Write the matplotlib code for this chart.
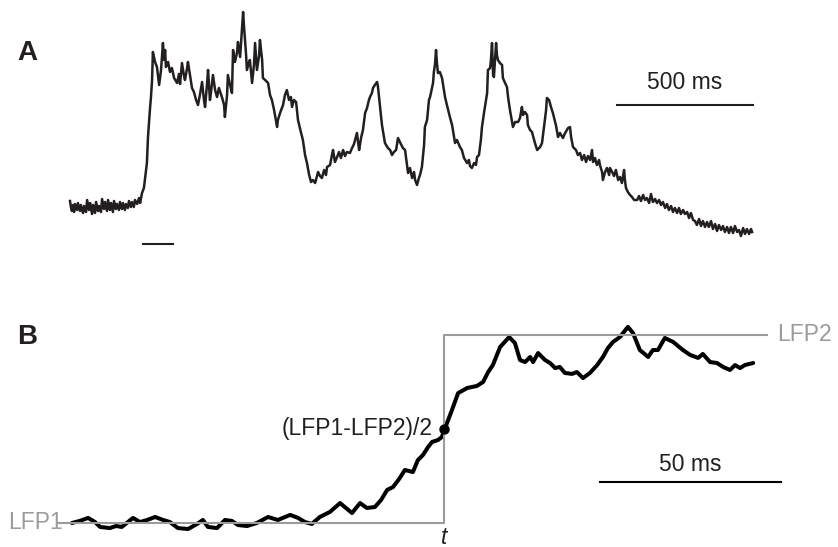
import matplotlib
matplotlib.use('Agg')
import matplotlib.pyplot as plt

plt.rcParams['font.family'] = ['Liberation Sans', 'DejaVu Sans']

# 面板A：场电位记录 (时间 ms, 幅值 任意单位)
t_a = [0, 4, 7, 11, 15, 18, 26, 29, 37, 40, 48, 52, 59, 63, 70, 74, 81, 85, 92, 96,
       103, 107, 114, 118, 125, 129, 136, 140, 147, 151, 158, 162, 169, 173, 180, 184,
       191, 195, 202, 206, 213, 217, 224, 228, 235, 239, 247, 254, 258, 265, 272, 283,
       287, 294, 298, 302, 305, 313, 320, 328, 335, 342, 346, 350, 353, 361, 368, 375,
       383, 394, 401, 405, 412, 419, 423, 431, 434, 442, 449, 456, 464, 471, 478, 486,
       493, 497, 504, 508, 515, 519, 526, 534, 541, 548, 559, 567, 570, 578, 581, 589,
       596, 600, 607, 615, 618, 626, 629, 637, 640, 644, 648, 651, 659, 662, 670, 677,
       681, 684, 688, 696, 699, 707, 710, 718, 729, 736, 743, 751, 762, 765, 773, 784,
       791, 798, 806, 813, 817, 824, 832, 839, 846, 857, 865, 872, 880, 887, 894, 902,
       913, 920, 927, 935, 942, 946, 957, 964, 968, 975, 983, 990, 997, 1005, 1012, 1019,
       1030, 1038, 1045, 1056, 1060, 1064, 1071, 1078, 1086, 1093, 1100, 1104, 1111,
       1115, 1122, 1130, 1133, 1141, 1148, 1159, 1170, 1178, 1185, 1192, 1200, 1207,
       1214, 1225, 1233, 1240, 1244, 1251, 1259, 1266, 1270, 1277, 1284, 1288, 1295,
       1303, 1306, 1314, 1321, 1325, 1332, 1336, 1339, 1343, 1347, 1350, 1354, 1361,
       1369, 1376, 1380, 1387, 1398, 1406, 1417, 1424, 1435, 1442, 1450, 1461, 1468,
       1472, 1479, 1487, 1494, 1498, 1505, 1512, 1516, 1524, 1535, 1538, 1546, 1549,
       1553, 1557, 1560, 1564, 1568, 1571, 1575, 1582, 1590, 1593, 1601, 1608, 1612,
       1619, 1630, 1638, 1649, 1656, 1663, 1667, 1674, 1682, 1685, 1693, 1700, 1711,
       1719, 1730, 1737, 1744, 1752, 1755, 1763, 1770, 1777, 1788, 1796, 1803, 1814,
       1822, 1833, 1840, 1844, 1851, 1862, 1869, 1877, 1884, 1892, 1899, 1906, 1914,
       1921, 1925, 1932, 1939, 1947, 1950, 1958, 1961, 1969, 1976, 1984, 1987, 1995,
       2002, 2009, 2017, 2024, 2031, 2039, 2042, 2046, 2053, 2061, 2068, 2076, 2087,
       2094, 2101, 2109, 2116, 2123, 2131, 2138, 2145, 2153, 2160, 2168, 2175, 2182,
       2190, 2197, 2204, 2212, 2219, 2226, 2234, 2241, 2248, 2256, 2263, 2271, 2278,
       2285, 2293, 2300, 2307, 2315, 2322, 2329, 2337, 2344, 2351, 2359, 2366, 2374,
       2381, 2388, 2396, 2403, 2410, 2418, 2425, 2432, 2440, 2447, 2455, 2462, 2469,
       2477, 2484, 2491, 2499, 2506, 2510]
v_a = [0.6, -0.1, -0.4, 0.2, -0.5, 0.3, -0.3, 0.4, -0.4, 0.2, -0.6, 0.1, -0.5, 0.7,
       -0.3, 0.4, -0.7, 0.2, -0.6, 0.5, -0.4, 0.1, -0.5, 0.8, -0.2, 0.5, -0.4, 0.7,
       -0.3, 0.4, -0.5, 0.6, -0.2, 0.3, -0.3, 0.5, -0.2, 0.4, -0.3, 0.3, -0.1, 0.6,
       0.0, 0.5, 0.0, 0.7, 0.3, 0.9, 0.4, 1.4, 1.9, 4.4, 7.0, 9.7, 11.0, 12.7, 15.5,
       14.5, 14.0, 12.2, 13.7, 16.4, 14.7, 15.7, 14.0, 14.5, 13.5, 13.9, 12.9, 12.4,
       13.3, 12.3, 14.4, 13.2, 12.7, 13.9, 14.5, 13.1, 11.9, 11.5, 10.7, 10.2, 11.2,
       12.5, 10.7, 10.0, 12.2, 13.7, 10.7, 11.5, 13.2, 11.7, 11.0, 11.9, 11.0, 10.2,
       9.0, 11.2, 13.2, 12.2, 11.4, 15.7, 14.5, 15.5, 16.5, 15.0, 16.2, 19.5, 18.2,
       16.7, 15.2, 13.7, 14.5, 14.7, 12.4, 14.2, 16.4, 15.2, 13.7, 15.2, 16.7, 14.7,
       12.9, 12.7, 12.4, 11.2, 10.7, 9.7, 8.0, 8.7, 9.4, 10.2, 11.2, 11.7, 10.7, 11.0,
       10.0, 10.7, 10.5, 8.7, 7.9, 6.7, 5.2, 4.4, 3.2, 2.5, 2.7, 2.4, 3.5, 3.1, 2.9,
       3.7, 3.2, 4.0, 4.2, 5.2, 5.7, 4.5, 5.0, 5.5, 4.9, 5.7, 5.1, 5.5, 5.4, 5.9, 6.3,
       7.4, 6.5, 5.7, 6.9, 7.7, 9.4, 9.9, 10.7, 11.0, 11.4, 11.9, 12.2, 12.5, 12.1,
       10.0, 8.2, 6.4, 5.9, 5.7, 5.2, 5.5, 5.7, 6.9, 6.5, 5.9, 5.7, 4.2, 3.4, 3.9, 2.9,
       3.5, 2.7, 2.2, 2.9, 3.2, 4.0, 6.2, 8.0, 8.7, 10.7, 11.0, 11.9, 12.4, 13.5, 14.2,
       15.7, 14.5, 13.4, 13.5, 12.9, 11.7, 11.0, 10.2, 9.0, 8.2, 6.4, 6.7, 6.0, 5.7,
       4.9, 4.4, 4.7, 4.1, 3.9, 4.4, 4.2, 5.0, 5.2, 6.7, 8.0, 9.5, 11.4, 13.7, 13.9,
       14.7, 16.4, 13.2, 13.0, 14.7, 16.4, 15.2, 14.7, 14.4, 14.2, 12.9, 12.4, 12.0,
       11.0, 9.7, 8.0, 8.5, 8.5, 8.9, 10.0, 9.2, 9.5, 9.2, 8.2, 7.7, 7.5, 6.4, 5.7,
       6.0, 6.4, 7.9, 9.7, 10.9, 10.7, 10.0, 9.4, 8.2, 7.0, 7.4, 6.9, 7.4, 7.9, 8.0,
       7.0, 6.0, 5.7, 5.2, 5.4, 4.7, 5.2, 4.5, 5.1, 4.7, 5.7, 4.5, 4.9, 4.2, 4.7, 4.2,
       3.5, 2.7, 3.5, 3.9, 3.2, 3.9, 3.5, 3.1, 3.7, 2.7, 3.0, 2.4, 3.7, 2.7, 1.9, 1.5,
       1.2, 1.0, 0.7, 0.7, 1.1, 0.6, 1.2, 0.7, 0.9, 0.4, 1.3, 0.5, 0.8, 0.4, 0.7, 0.2,
       0.5, -0.1, 0.3, -0.3, 0.1, -0.5, -0.1, -0.6, -0.1, -0.7, -0.3, -0.7, -0.5, -1.1,
       -0.6, -1.3, -1.4, -1.8, -1.2, -1.9, -1.4, -2.0, -1.5, -2.0, -1.4, -2.2, -1.7,
       -2.4, -1.8, -2.3, -1.9, -2.5, -2.0, -2.6, -2.0, -2.6, -1.9, -2.5, -2.3, -2.9,
       -2.1, -2.7, -2.2, -2.7, -2.2, -2.5]
stim_a = [270, 380]          # 刺激标记 (ms)
scale_a = [2013, 2513]       # 500 ms 比例尺

# 面板B：LFP1 -> LFP2 过渡 (时间 ms, 归一化幅值)
t_b = [-102.8, -100.6, -98.3, -96.4, -95.0, -92.3, -90.6, -89.0, -85.9, -84.0, -82.0,
       -79.8, -77.6, -75.7, -73.5, -70.7, -68.2, -66.6, -65.2, -62.7, -60.5, -58.6,
       -56.9, -54.4, -51.7, -48.6, -45.9, -42.5, -40.3, -38.4, -36.5, -34.3, -31.5,
       -28.7, -27.1, -25.4, -23.2, -21.3, -19.1, -17.4, -15.7, -14.1, -12.4, -10.8,
       -8.6, -7.2, -5.8, -4.4, -3.3, -1.7, -0.6, 0.3, 2.2, 3.9, 6.4, 9.1, 10.8, 12.2,
       13.5, 15.5, 18.0, 19.6, 21.0, 22.4, 23.8, 24.6, 26.0, 27.9, 29.3, 30.7, 32.0,
       33.4, 35.4, 36.7, 38.4, 40.3, 42.3, 43.9, 45.3, 46.7, 48.6, 50.8, 52.2, 54.1,
       56.4, 57.7, 59.1, 61.0, 63.3, 66.0, 68.0, 70.2, 71.5, 73.5, 75.4, 77.1, 79.0,
       80.4, 81.8, 83.1, 85.4]
v_b = [0.000, 0.011, 0.027, 0.005, -0.021, -0.027, -0.016, -0.021, 0.027, 0.005,
       0.016, 0.032, 0.016, 0.005, -0.027, -0.032, -0.005, 0.016, -0.021, -0.027,
       0.016, 0.011, -0.011, -0.016, 0.000, 0.032, 0.016, 0.043, 0.027, 0.005, -0.005,
       0.032, 0.059, 0.106, 0.080, 0.053, 0.106, 0.080, 0.085, 0.122, 0.176, 0.191,
       0.234, 0.282, 0.271, 0.335, 0.362, 0.404, 0.431, 0.441, 0.457, 0.505, 0.601,
       0.691, 0.718, 0.729, 0.750, 0.803, 0.840, 0.936, 0.989, 0.957, 0.867, 0.856,
       0.883, 0.856, 0.904, 0.867, 0.851, 0.824, 0.830, 0.798, 0.793, 0.803, 0.771,
       0.798, 0.840, 0.883, 0.931, 0.963, 0.989, 1.043, 1.011, 0.920, 0.883, 0.920,
       0.920, 0.984, 0.963, 0.920, 0.894, 0.878, 0.899, 0.856, 0.851, 0.830, 0.814,
       0.840, 0.824, 0.840, 0.851]
step_t = [-106.6, 0, 0, 89.2]
step_v = [0, 0, 1, 1]
scale_b = [43.1, 93.1]       # 50 ms 比例尺

trace_c = '#231f20'
gray_c = '#9b9b9b'

fig = plt.figure(figsize=(8.38, 5.47), dpi=100)

# ---- A ----
axA = fig.add_axes([0, 1 - 270 / 547, 1, 270 / 547])
axA.plot(t_a, v_a, color=trace_c, lw=1.8)
axA.plot(stim_a, [-3.7, -3.7], color=trace_c, lw=1.5)
axA.plot(scale_a, [10.2, 10.2], color=trace_c, lw=1.5)
axA.text(sum(scale_a) / 2, 11.3, '500 ms', ha='center', va='bottom', fontsize=16.5, color=trace_c)
axA.set_xlim(-257.6, 2826.2)
axA.set_ylim(-6.3, 20.7)
axA.axis('off')
fig.text(27 / 838, 1 - 53 / 547, 'A', fontsize=20, fontweight='bold', ha='center', va='center', color=trace_c)

# ---- B ----
axB = fig.add_axes([0, 0, 1, 277 / 547])
axB.plot(t_b, v_b, color='black', lw=2.9, solid_capstyle='round', zorder=2)
axB.plot(step_t, step_v, color=gray_c, lw=1.5, zorder=3)
axB.plot([0], [0.5], 'o', color='black', ms=6.5, zorder=4)
axB.plot(scale_b, [0.218, 0.218], color='black', lw=1.5)
axB.text(sum(scale_b) / 2, 0.25, '50 ms', ha='center', va='bottom', fontsize=16.5, color=trace_c)
axB.text(-3.2, 0.50, '(LFP1-LFP2)/2', ha='right', va='center', fontsize=16.5, color=trace_c)
axB.text(-105.2, 0, 'LFP1', ha='right', va='center', fontsize=16.5, color=gray_c)
axB.text(92.0, 1, 'LFP2', ha='left', va='center', fontsize=16.5, color=gray_c)
axB.text(0, -0.075, 't', ha='center', va='center', fontsize=16.5, style='italic', color=trace_c)
axB.set_xlim(-122.65, 108.84)
axB.set_ylim(-0.1277, 1.3457)
axB.axis('off')
fig.text(27 / 838, 1 - 337 / 547, 'B', fontsize=20, fontweight='bold', ha='center', va='center', color=trace_c)

plt.savefig('out.png', dpi=100)
